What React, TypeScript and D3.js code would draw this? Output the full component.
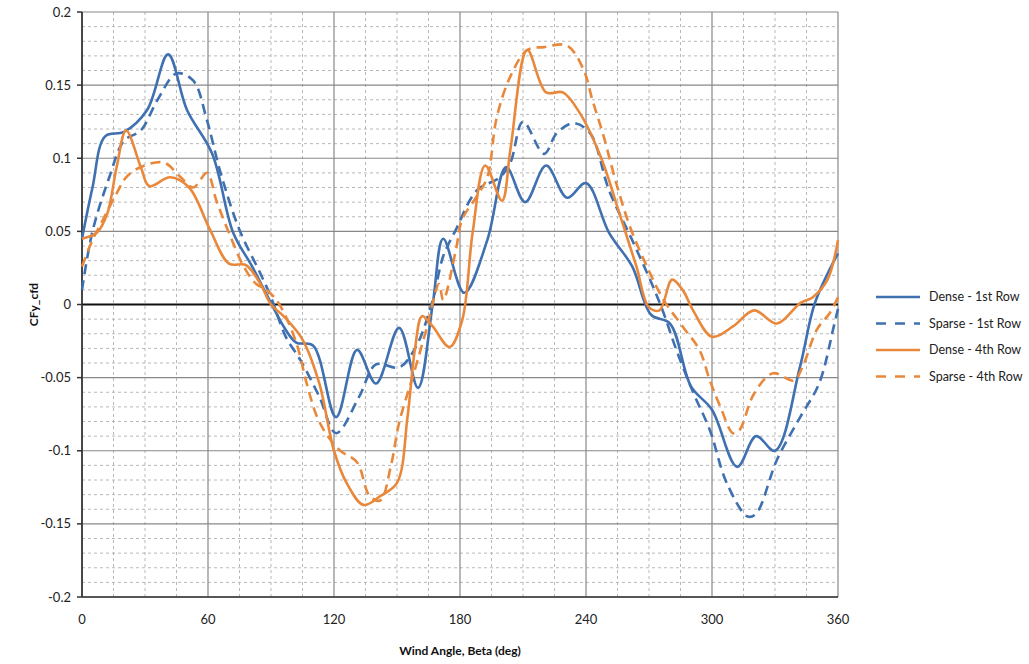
import React from 'react';
import * as d3 from 'd3';

const denseRow1X = [0, 5, 11, 20, 31, 41, 50, 62, 72, 81, 90, 96, 102, 110, 121, 131, 140, 151, 160, 167, 172, 182, 193, 202, 211, 221, 231, 240, 251, 262, 271, 280, 290, 300, 312, 321, 330, 342, 349, 360];
const denseRow1Y = [0.045, 0.08, 0.115, 0.118, 0.133, 0.171, 0.133, 0.103, 0.049, 0.026, 0.001, -0.015, -0.026, -0.028, -0.077, -0.031, -0.054, -0.016, -0.057, 0.0, 0.045, 0.008, 0.044, 0.094, 0.07, 0.095, 0.073, 0.083, 0.049, 0.026, -0.007, -0.013, -0.056, -0.072, -0.111, -0.09, -0.1, -0.042, 0.001, 0.035];

const sparseRow1X = [0, 5, 13, 20, 28, 36, 45, 53, 59.5, 66, 75, 85, 90, 97, 104, 113, 121, 132, 140, 151, 159, 167, 172, 178, 188, 199, 204, 210, 220, 226, 234, 242, 251, 262, 272, 277, 283, 291, 299, 307, 317, 321, 331, 342, 351, 358, 360];
const sparseRow1Y = [0.01, 0.05, 0.087, 0.112, 0.119, 0.14, 0.158, 0.153, 0.126, 0.09, 0.051, 0.021, 0.005, -0.022, -0.038, -0.063, -0.088, -0.063, -0.041, -0.043, -0.029, 0.003, 0.033, 0.051, 0.078, 0.087, 0.097, 0.125, 0.103, 0.117, 0.124, 0.117, 0.078, 0.044, 0.012, -0.006, -0.031, -0.06, -0.086, -0.122, -0.145, -0.143, -0.106, -0.077, -0.054, -0.015, -0.003];

const denseRow4X = [0, 7, 12, 16.5, 21, 28, 32, 42, 51, 61, 70, 78, 85, 90, 96, 105, 113, 120, 126, 134, 142, 150, 155, 158.5, 162, 167, 175, 181, 186, 192, 200, 204, 212, 221, 229, 237, 247, 256, 264, 270, 275, 281, 286, 291, 300, 310, 320, 331, 342, 348, 355, 360];
const denseRow4Y = [0.045, 0.049, 0.062, 0.094, 0.119, 0.094, 0.081, 0.087, 0.08, 0.051, 0.028, 0.027, 0.014, 0.0, -0.008, -0.024, -0.054, -0.1, -0.122, -0.137, -0.131, -0.122, -0.077, -0.031, -0.008, -0.015, -0.029, -0.011, 0.049, 0.095, 0.071, 0.106, 0.174, 0.145, 0.145, 0.131, 0.101, 0.062, 0.026, -0.002, -0.004, 0.017, 0.01, -0.004, -0.022, -0.015, -0.004, -0.013, 0.001, 0.005, 0.017, 0.044];

const sparseRow4X = [0, 5, 10, 16.5, 21, 28, 39, 47, 53, 59.5, 64, 70, 77, 83, 88, 94, 102, 107, 112, 117, 123, 131, 137, 142, 147, 151, 158, 164, 170, 172, 178, 181, 188, 193, 197.5, 204, 212, 220, 231, 239, 243, 248, 255, 261, 269, 277, 286, 294, 299, 304, 310, 313, 320, 329, 339, 343, 350, 356, 360];
const sparseRow4Y = [0.026, 0.044, 0.058, 0.076, 0.087, 0.094, 0.097, 0.087, 0.08, 0.09, 0.071, 0.049, 0.026, 0.014, 0.01, 0.0, -0.026, -0.054, -0.077, -0.09, -0.1, -0.108, -0.131, -0.134, -0.111, -0.081, -0.047, -0.017, 0.014, 0.003, 0.037, 0.058, 0.074, 0.087, 0.128, 0.156, 0.174, 0.176, 0.177, 0.16, 0.14, 0.117, 0.08, 0.053, 0.026, 0.003, -0.015, -0.031, -0.052, -0.07, -0.088, -0.086, -0.061, -0.047, -0.052, -0.043, -0.017, -0.006, 0.005];

const xTicks = [0, 60, 120, 180, 240, 300, 360];
const yTicks = [0.2, 0.15, 0.1, 0.05, 0, -0.05, -0.1, -0.15, -0.2];
const yTickLabels = ['0.2', '0.15', '0.1', '0.05', '0', '-0.05', '-0.1', '-0.15', '-0.2'];

const BLUE = '#3f70b0';
const ORANGE = '#e9883b';

const series = [
  { name: 'Dense - 1st Row', xs: denseRow1X, ys: denseRow1Y, color: BLUE, dash: '' },
  { name: 'Sparse - 1st Row', xs: sparseRow1X, ys: sparseRow1Y, color: BLUE, dash: '10 6' },
  { name: 'Dense - 4th Row', xs: denseRow4X, ys: denseRow4Y, color: ORANGE, dash: '' },
  { name: 'Sparse - 4th Row', xs: sparseRow4X, ys: sparseRow4Y, color: ORANGE, dash: '10 6' },
];

export default function App() {
  const width = 1029;
  const height = 664;
  const margin = { left: 82, top: 12, right: 1029 - 838, bottom: 664 - 597 };
  const x = d3.scaleLinear().domain([0, 360]).range([margin.left, width - margin.right]);
  const y = d3.scaleLinear().domain([-0.2, 0.2]).range([height - margin.bottom, margin.top]);

  const minorX = d3.range(0, 361, 15).filter(v => v % 60 !== 0);
  const minorY = d3.range(-20, 21, 1).filter(v => v % 5 !== 0).map(v => v / 100);

  const line = d3.line<[number, number]>()
    .x(d => x(d[0]))
    .y(d => y(d[1]))
    .curve(d3.curveCatmullRom.alpha(0.5));

  const font = 'Lato, "Open Sans", sans-serif';

  return (
    <svg width={width} height={height} style={{ position: 'absolute', left: 0, top: 0, background: '#fff' }}>
      {/* minor grid */}
      {minorX.map(v => (
        <line key={'mx' + v} x1={x(v)} x2={x(v)} y1={y(0.2)} y2={y(-0.2)} stroke="#b8b8b8" strokeWidth={1} strokeDasharray="3 3" />
      ))}
      {minorY.map(v => (
        <line key={'my' + v} x1={x(0)} x2={x(360)} y1={y(v)} y2={y(v)} stroke="#b8b8b8" strokeWidth={1} strokeDasharray="3 3" />
      ))}
      {/* major grid */}
      {xTicks.slice(1).map(v => (
        <line key={'gx' + v} x1={x(v)} x2={x(v)} y1={y(0.2)} y2={y(-0.2)} stroke="#888" strokeWidth={1.2} />
      ))}
      {yTicks.map(v => (
        <line key={'gy' + v} x1={x(0)} x2={x(360)} y1={y(v)} y2={y(v)} stroke={v === 0 ? '#111' : '#888'} strokeWidth={v === 0 ? 1.8 : 1.2} />
      ))}
      {/* axes */}
      <line x1={x(0)} x2={x(0)} y1={y(0.2)} y2={y(-0.2)} stroke="#333" strokeWidth={1.8} />
      <line x1={x(0)} x2={x(360)} y1={y(-0.2)} y2={y(-0.2)} stroke="#333" strokeWidth={1.5} />
      {yTicks.map(v => (
        <line key={'ty' + v} x1={x(0) - 5} x2={x(0)} y1={y(v)} y2={y(v)} stroke="#333" strokeWidth={1.5} />
      ))}
      {yTicks.map((v, i) => (
        <text key={'ly' + v} x={x(0) - 11} y={y(v)} dy="0.35em" textAnchor="end" fontFamily={font} fontSize={13} fill="#222">{yTickLabels[i]}</text>
      ))}
      {xTicks.map(v => (
        <text key={'lx' + v} x={x(v)} y={y(-0.2) + 27} textAnchor="middle" fontFamily={font} fontSize={13} fill="#222">{v}</text>
      ))}
      <text x={(x(0) + x(360)) / 2} y={655} textAnchor="middle" fontFamily={font} fontSize={12} fontWeight="bold" fill="#111">Wind Angle, Beta (deg)</text>
      <text transform={`translate(38,${y(0)}) rotate(-90)`} textAnchor="middle" fontFamily={font} fontSize={12} fontWeight="bold" fill="#111">CFy_cfd</text>
      {/* series */}
      {series.map(s => (
        <path key={s.name} d={line(s.xs.map((v, i) => [v, s.ys[i]] as [number, number])) || ''} fill="none" stroke={s.color} strokeWidth={2.6} strokeDasharray={s.dash || undefined} />
      ))}
      {/* legend */}
      {series.map((s, i) => (
        <g key={'lg' + s.name} transform={`translate(876,${297 + i * 26.5})`}>
          <line x1={0} x2={44} y1={0} y2={0} stroke={s.color} strokeWidth={2.6} strokeDasharray={s.dash ? '10 9' : undefined} />
          <text x={53} y={0} dy="0.35em" fontFamily={font} fontSize={12.5} fill="#222">{s.name}</text>
        </g>
      ))}
    </svg>
  );
}
